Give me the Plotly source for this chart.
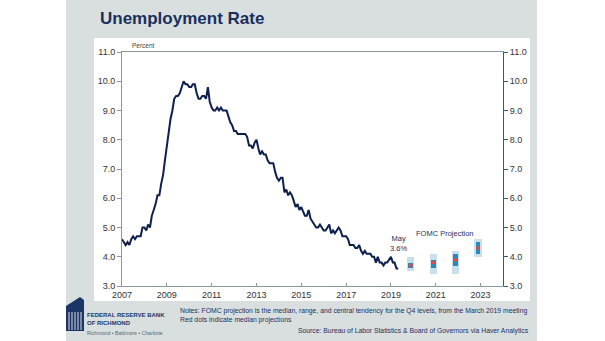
import plotly.graph_objects as go

# ---------------- data ----------------
start_year = 2007
unrate = [
    4.6, 4.5, 4.4, 4.5, 4.4, 4.6, 4.7, 4.6, 4.7, 4.7, 4.7, 5.0,   # 2007
    5.0, 4.9, 5.1, 5.0, 5.4, 5.6, 5.8, 6.1, 6.1, 6.5, 6.8, 7.3,   # 2008
    7.8, 8.3, 8.7, 9.0, 9.4, 9.5, 9.5, 9.6, 9.8, 10.0, 9.9, 9.9,  # 2009
    9.8, 9.8, 9.9, 9.9, 9.6, 9.4, 9.4, 9.5, 9.5, 9.4, 9.8, 9.3,   # 2010
    9.1, 9.0, 9.0, 9.1, 9.0, 9.1, 9.0, 9.0, 9.0, 8.8, 8.6, 8.5,   # 2011
    8.3, 8.3, 8.2, 8.2, 8.2, 8.2, 8.2, 8.1, 7.8, 7.8, 7.7, 7.9,   # 2012
    8.0, 7.7, 7.5, 7.6, 7.5, 7.5, 7.3, 7.2, 7.2, 7.2, 6.9, 6.7,   # 2013
    6.6, 6.7, 6.7, 6.2, 6.3, 6.1, 6.2, 6.1, 5.9, 5.7, 5.8, 5.6,   # 2014
    5.7, 5.5, 5.4, 5.4, 5.6, 5.3, 5.2, 5.1, 5.0, 5.0, 5.1, 5.0,   # 2015
    4.9, 4.9, 5.0, 5.1, 4.8, 4.9, 4.8, 4.9, 5.0, 4.9, 4.7, 4.7,   # 2016
    4.7, 4.6, 4.4, 4.4, 4.4, 4.3, 4.3, 4.4, 4.2, 4.1, 4.2, 4.1,   # 2017
    4.1, 4.1, 4.0, 4.0, 3.8, 4.0, 3.8, 3.8, 3.7, 3.8, 3.8, 3.9,   # 2018
    4.0, 3.8, 3.8, 3.6, 3.6,                                      # 2019
]
dates = [f"{start_year + i // 12}-{i % 12 + 1:02d}-01" for i in range(len(unrate))]

proj_dates = ["2019-11-20", "2020-11-20", "2021-11-20", "2022-11-20"]
proj_median = [3.7, 3.8, 3.9, 4.3]
proj_ct_low = [3.6, 3.6, 3.7, 4.1]
proj_ct_high = [3.8, 3.9, 4.1, 4.5]
proj_rng_low = [3.5, 3.4, 3.4, 4.0]
proj_rng_high = [4.0, 4.1, 4.2, 4.6]

tick_years = [2007, 2009, 2011, 2013, 2015, 2017, 2019, 2021, 2023]
y_ticks = [3.0, 4.0, 5.0, 6.0, 7.0, 8.0, 9.0, 10.0, 11.0]

# ---------------- layout helpers (pixel -> paper) ----------------
W, H = 605, 341
L, R, T, B = 122, 503, 52, 286


def px(x):
    return (x - L) / (R - L)


def py(y):
    return (B - y) / (B - T)


MS_YEAR = 365.25 * 24 * 3600 * 1000

fig = go.Figure()

fig.add_trace(go.Bar(
    x=proj_dates, base=proj_rng_low,
    y=[h - l for h, l in zip(proj_rng_high, proj_rng_low)],
    width=0.33 * MS_YEAR, marker=dict(color="#c9e0ec", line=dict(width=0)),
    hoverinfo="skip", showlegend=False))
fig.add_trace(go.Bar(
    x=proj_dates, base=proj_ct_low,
    y=[h - l for h, l in zip(proj_ct_high, proj_ct_low)],
    width=0.22 * MS_YEAR, marker=dict(color="#2a8ab2", line=dict(width=0)),
    hoverinfo="skip", showlegend=False))
fig.add_trace(go.Scatter(
    x=proj_dates, y=proj_median, mode="markers",
    marker=dict(color="#ff4040", size=3.5), hoverinfo="skip", showlegend=False))
fig.add_trace(go.Scatter(
    x=dates, y=unrate, mode="lines",
    line=dict(color="#0e1f4d", width=2), showlegend=False))
# invisible trace so the right axis is drawn
fig.add_trace(go.Scatter(
    x=dates, y=unrate, mode="lines", yaxis="y2", opacity=0,
    hoverinfo="skip", showlegend=False))

shapes = [
    # grey slide background
    dict(type="rect", xref="paper", yref="paper", x0=px(66), x1=px(537),
         y0=py(341), y1=py(0), fillcolor="#d9dfdf", line=dict(width=0), layer="below"),
    # white chart panel
    dict(type="rect", xref="paper", yref="paper", x0=px(94), x1=px(530),
         y0=py(301), y1=py(38), fillcolor="#ffffff", line=dict(width=0), layer="below"),
    # logo body
    dict(type="path", xref="paper", yref="paper",
         path=f"M {px(66)},{py(331)} L {px(66)},{py(306)} L {px(80)},{py(297)} "
              f"L {px(84)},{py(300)} L {px(84)},{py(331)} Z",
         fillcolor="#1b3566", line=dict(width=0), layer="above"),
]
for xx in [69, 72, 75, 78, 81]:
    shapes.append(dict(type="line", xref="paper", yref="paper",
                       x0=px(xx), x1=px(xx), y0=py(330), y1=py(312),
                       line=dict(color="#d9dfdf", width=1)))

navy = "#1b2f5e"
font_main = "Liberation Sans, Arial, sans-serif"
annotations = [
    dict(text="<b>Unemployment Rate</b>", xref="paper", yref="paper",
         x=px(98), y=py(18), xanchor="left", yanchor="middle", showarrow=False,
         font=dict(size=17, color=navy, family=font_main)),
    dict(text="Percent", xref="paper", yref="paper", x=px(130), y=py(45),
         xanchor="left", yanchor="middle", showarrow=False,
         font=dict(size=6.5, color="#444444", family=font_main)),
    dict(text="May<br>3.6%", x="2019-05-01", y=4.47, xref="x", yref="y",
         showarrow=False, font=dict(size=7.5, color=navy, family=font_main)),
    dict(text="FOMC Projection", x="2021-06-01", y=4.8, xref="x", yref="y",
         showarrow=False, font=dict(size=7.5, color=navy, family=font_main)),
    dict(text="Notes: FOMC projection is the median, range, and central tendency for the Q4 levels, from the March 2019 meeting",
         xref="paper", yref="paper", x=px(178), y=py(311), xanchor="left", yanchor="middle",
         showarrow=False, font=dict(size=6.8, color=navy, family=font_main)),
    dict(text="Red dots indicate median projections",
         xref="paper", yref="paper", x=px(178), y=py(320), xanchor="left", yanchor="middle",
         showarrow=False, font=dict(size=6.8, color=navy, family=font_main)),
    dict(text="Source: Bureau of Labor Statistics & Board of Governors via Haver Analytics",
         xref="paper", yref="paper", x=px(531), y=py(331), xanchor="right", yanchor="middle",
         showarrow=False, font=dict(size=6.8, color=navy, family=font_main)),
    dict(text="<b>FEDERAL RESERVE BANK</b>", xref="paper", yref="paper",
         x=px(85), y=py(315), xanchor="left", yanchor="middle", showarrow=False,
         font=dict(size=6, color="#1b3566", family=font_main)),
    dict(text="<b>OF RICHMOND</b>", xref="paper", yref="paper",
         x=px(85), y=py(323), xanchor="left", yanchor="middle", showarrow=False,
         font=dict(size=6, color="#1b3566", family=font_main)),
    dict(text="Richmond • Baltimore • Charlotte", xref="paper", yref="paper",
         x=px(85), y=py(333), xanchor="left", yanchor="middle", showarrow=False,
         font=dict(size=5.2, color="#556677", family=font_main)),
]

axis_font = dict(size=9, color="#333333", family=font_main)
fig.update_layout(
    width=W, height=H,
    margin=dict(l=L, r=W - R, t=T, b=H - B, pad=0),
    paper_bgcolor="#ffffff", plot_bgcolor="rgba(0,0,0,0)",
    barmode="overlay", bargap=0,
    shapes=shapes, annotations=annotations,
    xaxis=dict(type="date", range=["2007-01-01", "2024-01-01"],
               tickvals=[f"{y}-01-01" for y in tick_years],
               ticktext=[str(y) for y in tick_years],
               showgrid=False, zeroline=False,
               showline=True, linecolor="#8a96a0", linewidth=1, mirror=True,
               ticks="inside", ticklen=3, tickcolor="#8a96a0",
               tickfont=axis_font),
    yaxis=dict(range=[3.0, 11.0], tickvals=y_ticks,
               ticktext=[f"{v:.1f}" for v in y_ticks],
               showgrid=False, zeroline=False,
               showline=True, linecolor="#8a96a0", linewidth=1,
               ticks="outside", ticklen=4, tickcolor="#8a96a0",
               tickfont=axis_font),
    yaxis2=dict(range=[3.0, 11.0], tickvals=y_ticks,
                ticktext=[f"{v:.1f}" for v in y_ticks],
                overlaying="y", side="right",
                showgrid=False, zeroline=False,
                showline=True, linecolor="#2f5f6e", linewidth=1,
                ticks="outside", ticklen=4, tickcolor="#2f5f6e",
                tickfont=axis_font),
)

fig.write_html("out.html")
